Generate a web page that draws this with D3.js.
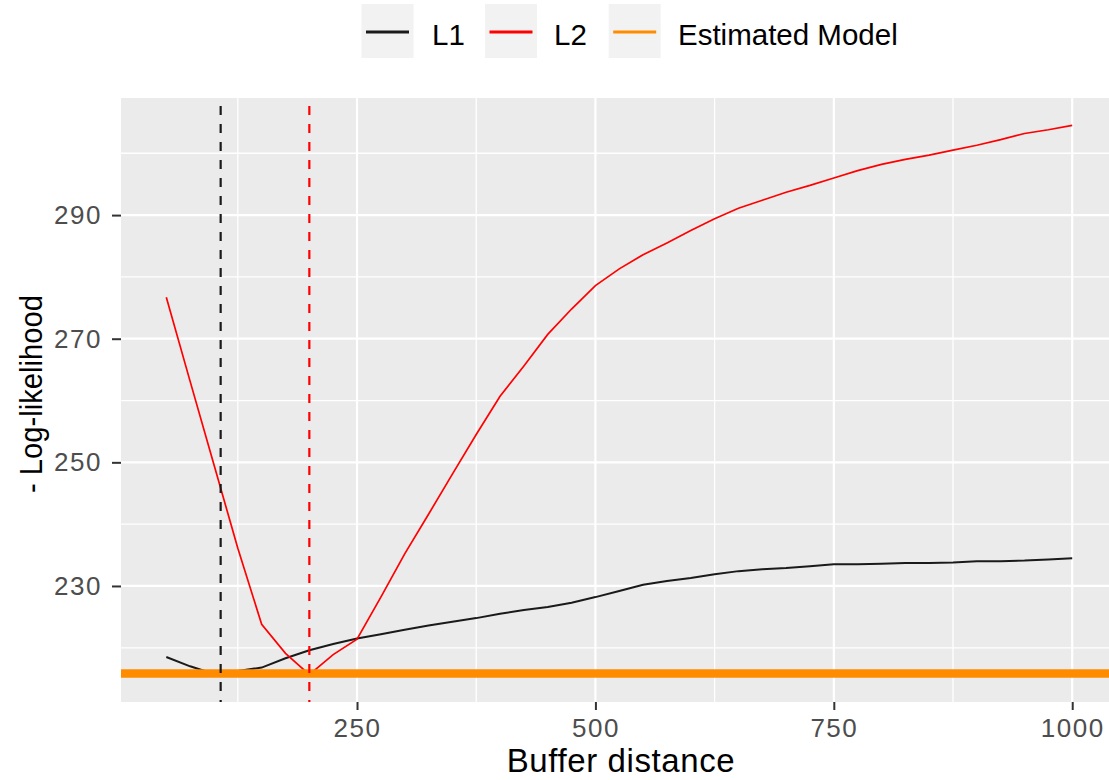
<!DOCTYPE html>
<html>
<head>
<meta charset="utf-8">
<script src="https://cdn.jsdelivr.net/npm/d3@7"></script>
<style>
  html, body { margin: 0; padding: 0; background: #fff; }
  svg { display: block; font-family: "Liberation Sans", Arial, sans-serif; }
</style>
</head>
<body>
<svg id="chart" width="1109" height="780"></svg>
<script>
// Buffer distances evaluated
const bufferDistance = [50, 75, 100, 125, 150, 175, 200, 225, 250, 275,
                        300, 325, 350, 375, 400, 425, 450, 475, 500, 525,
                        550, 575, 600, 625, 650, 675, 700, 725, 750, 775,
                        800, 825, 850, 875, 900, 925, 950, 975, 1000];
// Negative log-likelihood per buffer distance
const l1Values = [218.5, 217.0, 215.75, 216.25, 216.8, 218.3, 219.6, 220.6, 221.5, 222.2,
                  222.9, 223.6, 224.2, 224.8, 225.5, 226.1, 226.6, 227.3, 228.2, 229.2,
                  230.2, 230.8, 231.3, 231.9, 232.4, 232.7, 232.9, 233.2, 233.5, 233.5,
                  233.6, 233.7, 233.7, 233.8, 234.0, 234.0, 234.1, 234.3, 234.5];
const l2Values = [276.7, 263.1, 249.6, 236.1, 223.8, 219.1, 215.67, 218.9, 221.4, 228.2,
                  235.2, 241.6, 248.1, 254.5, 260.7, 265.6, 270.7, 274.8, 278.6, 281.3,
                  283.6, 285.5, 287.5, 289.4, 291.1, 292.4, 293.7, 294.8, 296.0, 297.2,
                  298.2, 299.0, 299.7, 300.5, 301.3, 302.2, 303.2, 303.8, 304.5];
const estimatedModel = 215.85;
const l1Optimum = 107;
const l2Optimum = 200;

const xTicks = [250, 500, 750, 1000];
const xMinor = [125, 375, 625, 875];
const yTicks = [230, 250, 270, 290];
const yMinor = [220, 240, 260, 280, 300];

const legendItems = [
  { label: "L1", color: "#1a1a1a" },
  { label: "L2", color: "#ff0000" },
  { label: "Estimated Model", color: "#ff8c00" }
];

const svg = d3.select("#chart");
const panel = { left: 121, top: 98, bottom: 702 };

// ggplot-style 5% expansion on both axes
const xExt = d3.extent(bufferDistance);
const xPad = (xExt[1] - xExt[0]) * 0.05;
const allY = l1Values.concat(l2Values, [estimatedModel]);
const yExt = d3.extent(allY);
const yPad = (yExt[1] - yExt[0]) * 0.05;

const pxPerUnit = 0.9536;
const panelRight = panel.left + (xExt[1] - xExt[0] + 2 * xPad) * pxPerUnit;

const x = d3.scaleLinear().domain([xExt[0] - xPad, xExt[1] + xPad]).range([panel.left, panelRight]);
const y = d3.scaleLinear().domain([yExt[0] - yPad, yExt[1] + yPad]).range([panel.bottom, panel.top]);

// Panel background
svg.append("rect")
  .attr("x", panel.left).attr("y", panel.top)
  .attr("width", panelRight - panel.left).attr("height", panel.bottom - panel.top)
  .attr("fill", "#ebebeb");

const grid = svg.append("g");
// Minor grid
grid.append("g").selectAll("line").data(xMinor).join("line")
  .attr("x1", d => x(d)).attr("x2", d => x(d))
  .attr("y1", panel.top).attr("y2", panel.bottom)
  .attr("stroke", "#fff").attr("stroke-width", 1.3);
grid.append("g").selectAll("line").data(yMinor).join("line")
  .attr("x1", panel.left).attr("x2", panelRight)
  .attr("y1", d => y(d)).attr("y2", d => y(d))
  .attr("stroke", "#fff").attr("stroke-width", 1.3);
// Major grid
grid.append("g").selectAll("line").data(xTicks).join("line")
  .attr("x1", d => x(d)).attr("x2", d => x(d))
  .attr("y1", panel.top).attr("y2", panel.bottom)
  .attr("stroke", "#fff").attr("stroke-width", 2.2);
grid.append("g").selectAll("line").data(yTicks).join("line")
  .attr("x1", panel.left).attr("x2", panelRight)
  .attr("y1", d => y(d)).attr("y2", d => y(d))
  .attr("stroke", "#fff").attr("stroke-width", 2.2);

// Likelihood curves
const line = d3.line().x((d, i) => x(bufferDistance[i])).y(d => y(d));
svg.append("path").datum(l1Values)
  .attr("d", line).attr("fill", "none")
  .attr("stroke", "#1a1a1a").attr("stroke-width", 2);
svg.append("path").datum(l2Values)
  .attr("d", line).attr("fill", "none")
  .attr("stroke", "#ff0000").attr("stroke-width", 1.7);

// Estimated model reference
svg.append("line")
  .attr("x1", panel.left).attr("x2", panelRight)
  .attr("y1", y(estimatedModel)).attr("y2", y(estimatedModel))
  .attr("stroke", "#ff8c00").attr("stroke-width", 8.5);

// Optimal buffer distances
[[l1Optimum, "#1a1a1a"], [l2Optimum, "#ff0000"]].forEach(([v, c]) => {
  svg.append("line")
    .attr("x1", x(v)).attr("x2", x(v))
    .attr("y1", panel.top + 8).attr("y2", panel.bottom)
    .attr("stroke", c).attr("stroke-width", 2.2)
    .attr("stroke-dasharray", "9,9");
});

// Axes
const xAxis = d3.axisBottom(x).tickValues(xTicks).tickFormat(d3.format("d")).tickSize(8).tickPadding(9);
const gx = svg.append("g").attr("transform", `translate(0,${panel.bottom})`).call(xAxis);
gx.select(".domain").remove();
gx.selectAll(".tick line").attr("stroke", "#333").attr("stroke-width", 2);
gx.selectAll(".tick text").attr("fill", "#4d4d4d").attr("font-size", 26)
  .attr("font-family", "Liberation Sans, Arial, sans-serif")
  .attr("style", "letter-spacing:1.5px");

const yAxis = d3.axisLeft(y).tickValues(yTicks).tickFormat(d3.format("d")).tickSize(9).tickPadding(10);
const gy = svg.append("g").attr("transform", `translate(${panel.left},0)`).call(yAxis);
gy.select(".domain").remove();
gy.selectAll(".tick line").attr("stroke", "#333").attr("stroke-width", 2);
gy.selectAll(".tick text").attr("fill", "#4d4d4d").attr("font-size", 26)
  .attr("font-family", "Liberation Sans, Arial, sans-serif")
  .attr("style", "letter-spacing:1.5px");

// Axis titles
svg.append("text")
  .attr("x", 621).attr("y", 772)
  .attr("text-anchor", "middle").attr("font-size", 33).attr("fill", "#000")
  .attr("style", "letter-spacing:0.6px")
  .text("Buffer distance");
svg.append("text")
  .attr("transform", `translate(42,394) rotate(-90)`)
  .attr("text-anchor", "middle").attr("font-size", 32).attr("fill", "#000")
  .attr("textLength", 198).attr("lengthAdjust", "spacingAndGlyphs")
  .text("- Log-likelihood");

// Legend
const legendX = [361.5, 485, 608.7];
const labelX = [432, 554, 678];
const lg = svg.append("g");
legendItems.forEach((d, i) => {
  lg.append("rect").attr("x", legendX[i]).attr("y", 4).attr("width", 52).attr("height", 54)
    .attr("fill", "#f2f2f2");
  lg.append("line").attr("x1", legendX[i] + 4.5).attr("x2", legendX[i] + 47.5)
    .attr("y1", 32).attr("y2", 32)
    .attr("stroke", d.color).attr("stroke-width", 3);
  lg.append("text").attr("x", labelX[i]).attr("y", 45)
    .attr("font-size", 29.5).attr("fill", "#000").text(d.label);
});
</script>
</body>
</html>
